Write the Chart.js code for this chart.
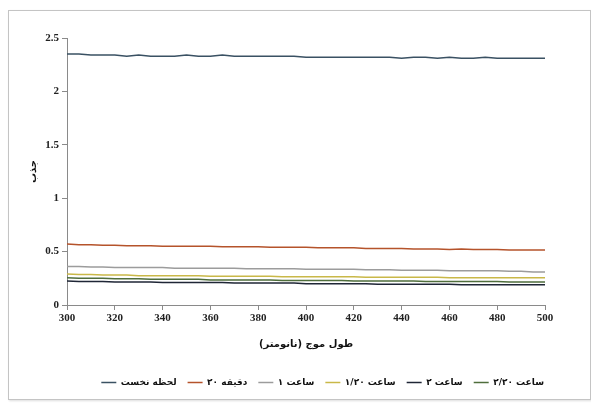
<!DOCTYPE html>
<html>
<head>
<meta charset="utf-8">
<script src="https://cdn.jsdelivr.net/npm/chart.js@4.4.0/dist/chart.umd.min.js"></script>
<style>
    body { margin: 0; background: #fff; }
    .frame {
        position: absolute; left: 8px; top: 10px;
        width: 581px; height: 388px;
        border: 1px solid #c4c4c4;
        box-shadow: 1px 1px 2px #ddd;
        background: #fff;
    }
</style>
</head>
<body>
<div class="frame"><canvas id="absChart" width="581" height="388"></canvas></div>
<script>
// wavelength (nm)
const wavelengths = [300,305,310,315,320,325,330,335,340,345,350,355,360,365,370,375,380,385,390,395,
    400,405,410,415,420,425,430,435,440,445,450,455,460,465,470,475,480,485,490,495,500];

const seriesNames = ["لحظه نخست", "۲۰ دقیقه", "۱ ساعت", "۱/۲۰ ساعت", "۲ ساعت", "۲/۲۰ ساعت"];
const seriesColors = ["#3a5163", "#b5532b", "#9c9c9c", "#c9b848", "#1f2636", "#4f6e3c"];

// absorbance readings
const firstMoment = [2.35,2.35,2.34,2.34,2.34,2.33,2.34,2.33,2.33,2.33,2.34,2.33,2.33,2.34,2.33,2.33,2.33,2.33,2.33,2.33,
    2.32,2.32,2.32,2.32,2.32,2.32,2.32,2.32,2.31,2.32,2.32,2.31,2.32,2.31,2.31,2.32,2.31,2.31,2.31,2.31,2.31];
const min20 = [0.57,0.565,0.565,0.56,0.56,0.555,0.555,0.555,0.55,0.55,0.55,0.55,0.55,0.545,0.545,0.545,0.545,0.54,0.54,0.54,
    0.54,0.535,0.535,0.535,0.535,0.53,0.53,0.53,0.53,0.525,0.525,0.525,0.52,0.525,0.52,0.52,0.52,0.515,0.515,0.515,0.515];
const hour1 = [0.36,0.36,0.355,0.355,0.35,0.35,0.35,0.35,0.35,0.345,0.345,0.345,0.345,0.345,0.345,0.34,0.34,0.34,0.34,0.34,
    0.335,0.335,0.335,0.335,0.335,0.33,0.33,0.33,0.325,0.325,0.325,0.325,0.32,0.32,0.32,0.32,0.32,0.315,0.315,0.31,0.31];
const hour1_20 = [0.29,0.285,0.285,0.28,0.28,0.28,0.275,0.275,0.275,0.275,0.275,0.275,0.27,0.27,0.27,0.27,0.27,0.27,0.265,0.265,
    0.265,0.265,0.265,0.265,0.265,0.26,0.26,0.26,0.26,0.26,0.26,0.26,0.255,0.255,0.255,0.255,0.255,0.255,0.255,0.255,0.255];
const hour2 = [0.225,0.22,0.22,0.22,0.215,0.215,0.215,0.215,0.21,0.21,0.21,0.21,0.21,0.21,0.205,0.205,0.205,0.205,0.205,0.205,
    0.2,0.2,0.2,0.2,0.2,0.2,0.195,0.195,0.195,0.195,0.195,0.195,0.195,0.19,0.19,0.19,0.19,0.19,0.19,0.19,0.19];
const hour2_20 = [0.255,0.25,0.25,0.25,0.245,0.245,0.245,0.24,0.24,0.24,0.24,0.24,0.235,0.235,0.235,0.235,0.235,0.235,0.23,0.23,
    0.23,0.23,0.23,0.23,0.225,0.225,0.225,0.225,0.225,0.225,0.22,0.22,0.22,0.22,0.22,0.22,0.22,0.215,0.215,0.215,0.215];

const allSeries = [firstMoment, min20, hour1, hour1_20, hour2, hour2_20];

const tickFont = {family: "'Liberation Serif', serif", size: 11, weight: "bold"};
const faFont = {family: "'DejaVu Sans', sans-serif", size: 10, weight: "bold"};
const legendFont = {family: "'DejaVu Sans', sans-serif", size: 9, weight: "bold"};

let datasets = allSeries.map((vals, i) => ({
    label: seriesNames[i],
    data: vals.map((v, j) => ({x: wavelengths[j], y: v})),
    borderColor: seriesColors[i],
    backgroundColor: seriesColors[i],
    borderWidth: 1.5,
    pointRadius: 0,
    tension: 0
}));

// nudge the legend row a little to the right
const legendShift = {
    id: "legendShift",
    afterLayout(chart) {
        chart.legend.left += 10;
        chart.legend.right += 10;
    }
};

new Chart(document.getElementById("absChart"), {
    type: "line",
    data: {datasets: datasets},
    plugins: [legendShift],
    options: {
        responsive: false,
        animation: false,
        layout: {padding: {left: 10, right: 45, top: 27, bottom: 2}},
        plugins: {
            tooltip: {enabled: false},
            legend: {
                position: "bottom",
                align: "end",
                labels: {
                    usePointStyle: true,
                    pointStyle: "line",
                    pointStyleWidth: 15,
                    boxHeight: 2,
                    padding: 11,
                    color: "#111",
                    font: legendFont
                }
            }
        },
        scales: {
            x: {
                type: "linear",
                min: 300,
                max: 500,
                afterFit: s => { s.height = 62; },
                ticks: {stepSize: 20, color: "#222", font: tickFont, maxRotation: 0, padding: 2},
                grid: {drawOnChartArea: false, color: "#8a8a8a", tickLength: 5},
                border: {color: "#8a8a8a"},
                title: {display: true, text: "طول موج (نانومتر)", color: "#111", font: faFont, padding: {top: 4, bottom: 17}}
            },
            y: {
                min: 0,
                max: 2.5,
                afterFit: s => { s.width = 48; },
                ticks: {stepSize: 0.5, color: "#222", font: tickFont, padding: 3,
                    callback: v => String(v)},
                grid: {drawOnChartArea: false, color: "#8a8a8a", tickLength: 5},
                border: {color: "#8a8a8a"},
                title: {display: true, text: "جذب", color: "#111", font: faFont, padding: {top: 8, bottom: 0}}
            }
        }
    }
});
</script>
</body>
</html>
